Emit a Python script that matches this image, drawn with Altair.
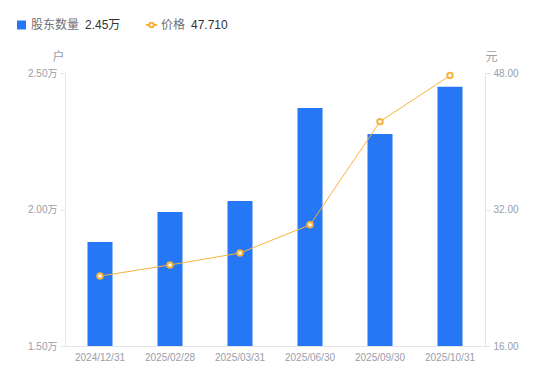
import altair as alt
import pandas as pd

dates = ["2024/12/31", "2025/02/28", "2025/03/31", "2025/06/30", "2025/09/30", "2025/10/31"]
holders = [1.881, 1.991, 2.031, 2.372, 2.277, 2.450]   # 万户
prices = [24.2, 25.5, 26.9, 30.2, 42.3, 47.71]          # 元

df = pd.DataFrame({"date": dates, "holders": holders, "price": prices})

FONT = "Liberation Sans, Noto Sans CJK SC, sans-serif"
BLUE = "#2577F5"
ORANGE = "#F8B23C"
GRAY = "#9A9DAA"
AXIS = "#E3E5EA"

x = alt.X("date:N", sort=dates, title=None,
          scale=alt.Scale(paddingInner=0, paddingOuter=0),
          axis=alt.Axis(labelAngle=0, labelColor=GRAY, labelFontSize=10, labelFont=FONT,
                        domainColor=AXIS, ticks=False, labelPadding=6))

bars = alt.Chart(df).mark_bar(size=25, color=BLUE, clip=True).encode(
    x=x,
    y=alt.Y("holders:Q", title="户",
            scale=alt.Scale(domain=[1.5, 2.5], nice=False, zero=False),
            axis=alt.Axis(values=[1.5, 2.0, 2.5], labelExpr="format(datum.value, '.2f') + '万'",
                          grid=False, labelColor=GRAY, labelFontSize=10, labelFont=FONT,
                          domainColor=AXIS, tickColor=AXIS, tickSize=5, labelPadding=3,
                          titleAngle=0, titleX=-7, titleY=-17, titleAlign="center",
                          titleBaseline="middle", titleColor=GRAY, titleFontWeight="normal",
                          titleFontSize=12, titleFont=FONT))
)

line = alt.Chart(df).mark_line(
    color=ORANGE, strokeWidth=1,
    point=alt.OverlayMarkDef(shape="circle", filled=True, fill="white", stroke=ORANGE,
                             strokeWidth=2, size=30, opacity=1)
).encode(
    x=x,
    y=alt.Y("price:Q", title="元",
            scale=alt.Scale(domain=[16, 48], nice=False, zero=False),
            axis=alt.Axis(orient="right", values=[16, 32, 48], format=".2f",
                          grid=False, labelColor=GRAY, labelFontSize=10, labelFont=FONT,
                          domainColor=AXIS, tickColor=AXIS, tickSize=5, labelPadding=3,
                          titleAngle=0, titleX=6, titleY=-17, titleAlign="center",
                          titleBaseline="middle", titleColor=GRAY, titleFontWeight="normal",
                          titleFontSize=12, titleFont=FONT))
)

# legend
leg_df = pd.DataFrame({"k": [0]})
base = alt.Chart(leg_df)
sq = base.mark_square(color=BLUE, size=81, opacity=1).encode(x=alt.value(-43.5), y=alt.value(-48))
t1 = base.mark_text(text="股东数量", align="left", baseline="middle", fontSize=12, font=FONT,
                    color="#6E7079").encode(x=alt.value(-34), y=alt.value(-48))
t2 = base.mark_text(text="2.45万", align="left", baseline="middle", fontSize=12, font=FONT,
                    color="#333333").encode(x=alt.value(20), y=alt.value(-48))
lr = base.mark_rule(color=ORANGE, strokeWidth=2).encode(
    x=alt.value(81), x2=alt.value(92), y=alt.value(-48))
lc = base.mark_point(shape="circle", filled=True, fill="white", stroke=ORANGE, strokeWidth=2,
                     size=20, opacity=1).encode(x=alt.value(86.5), y=alt.value(-48))
t3 = base.mark_text(text="价格", align="left", baseline="middle", fontSize=12, font=FONT,
                    color="#6E7079").encode(x=alt.value(96), y=alt.value(-48))
t4 = base.mark_text(text="47.710", align="left", baseline="middle", fontSize=12, font=FONT,
                    color="#333333").encode(x=alt.value(126), y=alt.value(-48))

chart = alt.layer(bars, line, sq, t1, t2, lr, lc, t3, t4).resolve_scale(y="independent").properties(
    width=420, height=273,
    autosize=alt.AutoSizeParams(type="none"),
    padding={"left": 57, "top": 65, "right": 57, "bottom": 27},
).configure_view(stroke=None)

chart.save("out.html", embed_options={"renderer": "svg", "actions": False})
